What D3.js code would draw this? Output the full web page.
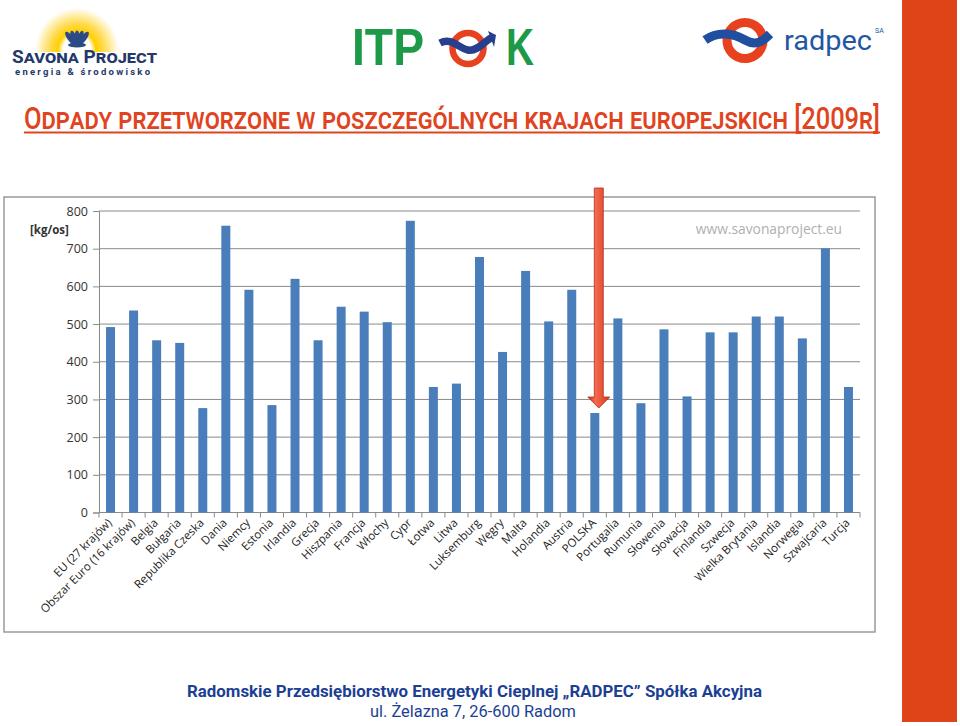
<!DOCTYPE html>
<html>
<head>
<meta charset="utf-8">
<script src="https://cdn.jsdelivr.net/npm/d3@7"></script>
<style>
  html, body { margin: 0; padding: 0; background: #fff; }
  svg { display: block; }
</style>
</head>
<body>
<script>
// ---------- DATA ----------
const categories = ["EU (27 krajów)", "Obszar Euro (16 krajów)", "Belgia", "Bułgaria", "Republika Czeska",
  "Dania", "Niemcy", "Estonia", "Irlandia", "Grecja", "Hiszpania", "Francja", "Włochy", "Cypr", "Łotwa",
  "Litwa", "Luksemburg", "Węgry", "Malta", "Holandia", "Austria", "POLSKA", "Portugalia", "Rumunia",
  "Słowenia", "Słowacja", "Finlandia", "Szwecja", "Wielka Brytania", "Islandia", "Norwegia", "Szwajcaria", "Turcja"];
const values = [492, 536, 457, 450, 277, 761, 591, 285, 620, 457, 546, 533, 505, 774, 333,
  342, 678, 426, 641, 507, 591, 264, 515, 290, 486, 308, 478, 478, 520, 520, 462, 701, 333];
const yTicks = [0, 100, 200, 300, 400, 500, 600, 700, 800];
const highlighted = "POLSKA";
const titleText = "Odpady przetworzone w poszczególnych krajach europejskich [2009r]";
const unitLabel = "[kg/os]";
const watermark = "www.savonaproject.eu";
const footerLine1 = "Radomskie Przedsiębiorstwo Energetyki Cieplnej „RADPEC” Spółka Akcyjna";
const footerLine2 = "ul. Żelazna 7, 26-600 Radom";

// ---------- SETUP ----------
const W = 960, H = 726;
const svg = d3.select("body").append("svg").attr("width", W).attr("height", H);
const defs = svg.append("defs");

// right orange strip
svg.append("rect").attr("x", 902).attr("y", 0).attr("width", 55).attr("height", 722).attr("fill", "#df4418");

// ---------- LOGOS ----------
// Savona Project
const sun = defs.append("radialGradient").attr("id", "sun").attr("cx", 0.5).attr("cy", 0.5).attr("r", 0.5);
sun.append("stop").attr("offset", "0%").attr("stop-color", "#fff");
sun.append("stop").attr("offset", "33%").attr("stop-color", "#fff");
sun.append("stop").attr("offset", "45%").attr("stop-color", "#ffd000");
sun.append("stop").attr("offset", "65%").attr("stop-color", "#ffdc55");
sun.append("stop").attr("offset", "88%").attr("stop-color", "#fff3c4");
sun.append("stop").attr("offset", "100%").attr("stop-color", "#fff");
defs.append("clipPath").attr("id", "sunclip").append("rect").attr("x", 0).attr("y", 0).attr("width", 170).attr("height", 52);
svg.append("circle").attr("cx", 77).attr("cy", 50).attr("r", 42).attr("fill", "url(#sun)").attr("clip-path", "url(#sunclip)");
const lotus = svg.append("g").attr("fill", "#2b4a86");
[[-7, -35], [-3.5, -15], [0, 0], [3.5, 15], [7, 35]].forEach(([dx, rot]) => {
  lotus.append("ellipse").attr("cx", 0).attr("cy", 0).attr("rx", 2.8).attr("ry", 7.5)
    .attr("transform", `translate(${77 + dx},${38}) rotate(${rot})`);
});
svg.append("ellipse").attr("cx", 77).attr("cy", 45).attr("rx", 9).attr("ry", 2.5).attr("fill", "#2b4a86");
svg.append("text").attr("x", 12).attr("y", 63).attr("textLength", 145).attr("lengthAdjust", "spacingAndGlyphs")
  .style("font-family", "Roboto").style("font-weight", 700).style("font-size", "18px").style("font-variant", "small-caps")
  .attr("fill", "#22396a").text("Savona Project");
svg.append("text").attr("x", 15).attr("y", 75).attr("textLength", 135).attr("lengthAdjust", "spacing")
  .style("font-family", "Roboto").style("font-weight", 700).style("font-size", "9.5px")
  .attr("fill", "#22396a").text("energia & środowisko");

// ITPOK
svg.append("text").attr("x", 352).attr("y", 65).attr("textLength", 72).attr("lengthAdjust", "spacingAndGlyphs")
  .style("font-family", "Liberation Sans").style("font-weight", 700).style("font-size", "51px")
  .attr("fill", "#1d9a48").text("ITP");
svg.append("text").attr("x", 506).attr("y", 65).attr("textLength", 28).attr("lengthAdjust", "spacingAndGlyphs")
  .style("font-family", "Liberation Sans").style("font-weight", 700).style("font-size", "51px")
  .attr("fill", "#1d9a48").text("K");
svg.append("circle").attr("cx", 468).attr("cy", 48.5).attr("r", 15.5).attr("fill", "none").attr("stroke", "#e8411f").attr("stroke-width", 6.5);
svg.append("path").attr("d", "M440,43 C452,37 458,48 468,50 C478,52 485,40 493,37")
  .attr("fill", "none").attr("stroke", "#283e8e").attr("stroke-width", 7.5);
svg.append("path").attr("d", "M488,31 L496,35 L494,47 Z").attr("fill", "#283e8e");

// radpec
svg.append("circle").attr("cx", 745).attr("cy", 40.5).attr("r", 18).attr("fill", "none").attr("stroke", "#e8411f").attr("stroke-width", 9);
svg.append("path").attr("d", "M705,40 C718,31 733,33 745,40 C757,47 764,40 770,34")
  .attr("fill", "none").attr("stroke", "#1f4f9e").attr("stroke-width", 9);
svg.append("text").attr("x", 784).attr("y", 50).attr("textLength", 88).attr("lengthAdjust", "spacingAndGlyphs")
  .style("font-family", "Roboto").style("font-weight", 400).style("font-size", "28px")
  .attr("fill", "#2356a3").text("radpec");
svg.append("text").attr("x", 875).attr("y", 33).style("font-family", "Roboto").style("font-size", "7px")
  .attr("fill", "#2356a3").text("SA");

// ---------- TITLE ----------
svg.append("text").attr("x", 24).attr("y", 0).attr("textLength", 856).attr("lengthAdjust", "spacingAndGlyphs")
  .attr("transform", "translate(0,129) scale(1,1.18)")
  .style("font-family", "Roboto").style("font-weight", 500).style("font-size", "26px").style("font-variant", "small-caps")
  .attr("fill", "#e0441f").text(titleText);
svg.append("line").attr("x1", 24).attr("x2", 880).attr("y1", 132.5).attr("y2", 132.5)
  .attr("stroke", "#e0441f").attr("stroke-width", 2);

// ---------- CHART ----------
const box = { x: 4, y: 197, w: 871, h: 435 };
svg.append("rect").attr("x", box.x).attr("y", box.y).attr("width", box.w).attr("height", box.h)
  .attr("fill", "#fff").attr("stroke", "#9a9a9a").attr("stroke-width", 1.5);

const plot = { left: 99, right: 860, top: 211, bottom: 512.5 };
const x = d3.scaleBand().domain(categories).range([plot.left, plot.right]).paddingInner(0.61).paddingOuter(0.305);
const y = d3.scaleLinear().domain([0, 800]).range([plot.bottom, plot.top]);

const g = svg.append("g");
// gridlines
g.selectAll("line.grid").data(yTicks.filter(d => d > 0)).join("line").attr("class", "grid")
  .attr("x1", plot.left).attr("x2", plot.right).attr("y1", d => y(d)).attr("y2", d => y(d))
  .attr("stroke", "#8a8a8a").attr("stroke-width", 1);

// y axis
const yAxis = d3.axisLeft(y).tickValues(yTicks).tickSize(6).tickPadding(5);
const yG = g.append("g").attr("transform", `translate(${plot.left},0)`).call(yAxis);
yG.select(".domain").attr("stroke", "#8a8a8a");
yG.selectAll(".tick line").attr("stroke", "#8a8a8a");
yG.selectAll(".tick text").style("font-family", "Open Sans").style("font-size", "12.5px").attr("fill", "#333");

// x axis baseline + ticks at band boundaries
g.append("line").attr("x1", plot.left).attr("x2", plot.right).attr("y1", plot.bottom).attr("y2", plot.bottom)
  .attr("stroke", "#8a8a8a");
const step = x.step();
const boundaries = d3.range(categories.length + 1).map(i => plot.left + i * step);
g.selectAll("line.xt").data(boundaries).join("line").attr("class", "xt")
  .attr("x1", d => d).attr("x2", d => d).attr("y1", plot.bottom).attr("y2", plot.bottom + 5)
  .attr("stroke", "#8a8a8a");

// bars
g.selectAll("rect.bar").data(categories).join("rect").attr("class", "bar")
  .attr("x", d => x(d)).attr("width", x.bandwidth())
  .attr("y", (d, i) => y(values[i])).attr("height", (d, i) => y(0) - y(values[i]))
  .attr("fill", "#4a7ebb");

// x labels
g.selectAll("text.xl").data(categories).join("text").attr("class", "xl")
  .attr("transform", d => `translate(${x(d) + x.bandwidth() / 2 + 2},${plot.bottom + 11}) rotate(-45)`)
  .attr("text-anchor", "end")
  .style("font-family", "Open Sans").style("font-size", "11.5px").attr("fill", "#222")
  .text(d => d);

// unit label
svg.append("text").attr("x", 30).attr("y", 234).style("font-family", "Open Sans").style("font-weight", 700)
  .style("font-size", "11.5px").attr("fill", "#333").text(unitLabel);

// watermark
svg.append("text").attr("x", 842).attr("y", 234).attr("text-anchor", "end")
  .style("font-family", "Open Sans").style("font-size", "13.8px").attr("fill", "#b0b0b0").text(watermark);

// ---------- ARROW ----------
const arrG = defs.append("linearGradient").attr("id", "arr").attr("x1", 0).attr("x2", 1).attr("y1", 0).attr("y2", 0);
arrG.append("stop").attr("offset", "0%").attr("stop-color", "#c9301c");
arrG.append("stop").attr("offset", "35%").attr("stop-color", "#f26b50");
arrG.append("stop").attr("offset", "100%").attr("stop-color", "#d8381f");
const ax = x(highlighted) + x.bandwidth() / 2 + 4;
const tipY = y(values[categories.indexOf(highlighted)]) - 5;
const topY = box.y - 9;
svg.append("path")
  .attr("d", `M${ax - 4.5},${topY} L${ax + 4.5},${topY} L${ax + 4.5},${tipY - 11} L${ax + 11},${tipY - 11} L${ax},${tipY} L${ax - 11},${tipY - 11} L${ax - 4.5},${tipY - 11} Z`)
  .attr("fill", "url(#arr)").attr("stroke", "#b8301a").attr("stroke-width", 0.8);

// ---------- FOOTER ----------
svg.append("text").attr("x", 187).attr("y", 697).attr("textLength", 575).attr("lengthAdjust", "spacingAndGlyphs")
  .style("font-family", "Roboto").style("font-weight", 700).style("font-size", "16.5px")
  .attr("fill", "#1c3f94").text(footerLine1);
svg.append("text").attr("x", 370).attr("y", 717).attr("textLength", 206).attr("lengthAdjust", "spacingAndGlyphs")
  .style("font-family", "Roboto").style("font-weight", 400).style("font-size", "16.5px")
  .attr("fill", "#1c3f94").text(footerLine2);
</script>
</body>
</html>
